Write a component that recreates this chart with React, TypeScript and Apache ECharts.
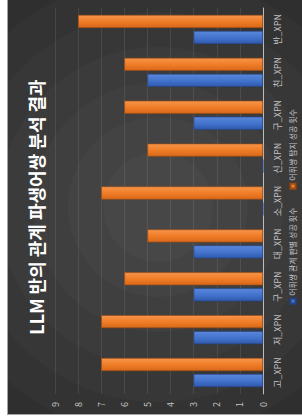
import React, { useEffect, useRef } from "react";
import * as echarts from "echarts";

const titleText = "LLM 반의 관계 파생어쌍 분석 결과";
const categories = ["고_XPN", "저_XPN", "구_XPN", "대_XPN", "소_XPN", "신_XPN", "구_XPN", "친_XPN", "반_XPN"];
const seriesNames = ["어휘쌍 관계 판별 성공 횟수", "어휘쌍 탐지 성공 횟수"];
const relationJudged = [3, 3, 3, 3, 0, 0, 3, 5, 3];
const pairsDetected = [7, 7, 6, 5, 7, 5, 6, 6, 8];
const valueTicks = { min: 0, max: 9, interval: 1 };

const CW = 414;
const CH = 294;
const FONT = "'Noto Sans CJK KR', 'Noto Sans', sans-serif";

export default function App() {
  const ref = useRef<HTMLDivElement>(null);
  useEffect(() => {
    if (!ref.current) return;
    const chart = echarts.init(ref.current, null, { renderer: "svg", width: CW, height: CH });
    const rings = [300, 265, 230, 195, 160, 125, 90, 55].map((r) => ({
      type: "circle",
      shape: { cx: 207, cy: 150, r },
      style: { fill: "rgba(255,255,255,0.024)" },
      silent: true,
      z: -10,
    }));
    const grad = (c: string[]) =>
      new echarts.graphic.LinearGradient(0, 0, 1, 0, [
        { offset: 0, color: c[0] },
        { offset: 0.45, color: c[1] },
        { offset: 1, color: c[2] },
      ]);
    chart.setOption({
      animation: false,
      backgroundColor: "#262626",
      textStyle: { fontFamily: FONT },
      graphic: [{ type: "group", z: -10, children: rings }],
      title: {
        text: titleText,
        left: "center",
        top: 14,
        textStyle: { color: "#ffffff", fontSize: 18, fontWeight: "bold", fontFamily: FONT },
      },
      legend: {
        data: seriesNames,
        left: "center",
        top: 279,
        padding: 2,
        itemWidth: 5,
        itemHeight: 5,
        itemGap: 18,
        icon: "rect",
        textStyle: { color: "#c4c4c4", fontSize: 8, fontFamily: FONT, padding: [0, 0, 0, -2] },
      },
      grid: { left: 20, right: 8, top: 47, bottom: CH - 255 },
      xAxis: {
        type: "category",
        data: categories,
        axisLine: { lineStyle: { color: "#bdbdbd", width: 1 } },
        axisTick: { show: false },
        axisLabel: { color: "#c4c4c4", fontSize: 9, margin: 10, fontFamily: FONT },
      },
      yAxis: {
        type: "value",
        min: valueTicks.min,
        max: valueTicks.max,
        interval: valueTicks.interval,
        axisLine: { show: false },
        axisTick: { show: false },
        axisLabel: { color: "#c4c4c4", fontSize: 9, margin: 8, fontFamily: FONT },
        splitLine: { lineStyle: { color: "rgba(255,255,255,0.09)", width: 1 } },
      },
      series: [
        {
          name: seriesNames[0],
          type: "bar",
          data: relationJudged,
          barWidth: 13,
          barGap: "23%",
          itemStyle: {
            color: grad(["#2f59ac", "#4272cc", "#5a87db"]),
            borderColor: "#23448a",
            borderWidth: 0.6,
          },
        },
        {
          name: seriesNames[1],
          type: "bar",
          data: pairsDetected,
          barWidth: 13,
          barGap: "23%",
          itemStyle: {
            color: grad(["#d6681a", "#ef7b25", "#f6954a"]),
            borderColor: "#9c4a10",
            borderWidth: 0.6,
          },
        },
      ],
    });
    return () => chart.dispose();
  }, []);

  return (
    <div
      style={{
        position: "absolute",
        left: 7,
        top: 0,
        width: 295,
        height: 414,
        overflow: "hidden",
        borderLeft: "1px solid #a3a3a3",
        borderBottom: "1px solid #a3a3a3",
      }}
    >
      <div
        ref={ref}
        style={{
          position: "absolute",
          left: 0,
          top: 0,
          width: CW,
          height: CH,
          transformOrigin: "0 0",
          transform: `translate(0px, ${CW}px) rotate(-90deg)`,
        }}
      />
    </div>
  );
}
